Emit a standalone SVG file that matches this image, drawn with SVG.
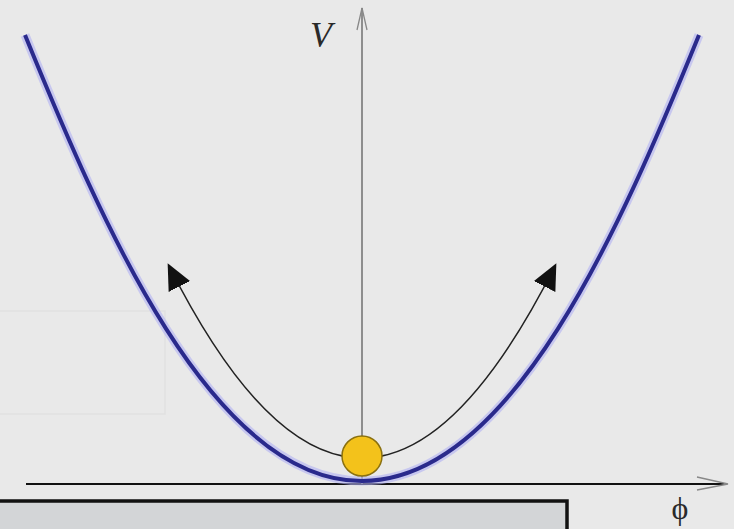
<svg xmlns="http://www.w3.org/2000/svg" width="734" height="529" viewBox="0 0 734 529">
  <style>
    .axis { stroke: #111; stroke-width: 2; fill: none; }
    .vaxis { stroke: #777; stroke-width: 1.6; fill: none; }
    .barb { stroke: #888; stroke-width: 1.3; fill: none; }
    .halo { stroke: #b0b0f4; stroke-width: 9; fill: none; opacity: 0.6; }
    .pot { stroke: #2a2a8c; stroke-width: 4; fill: none; }
    .arc { stroke: #222; stroke-width: 1.6; fill: none; }
    .lbl { font-family: "Liberation Serif", "DejaVu Serif", serif; fill: #2a2a2a; }
  </style>
  <defs>
    <marker id="ah" viewBox="0 0 26 24" refX="23" refY="12" markerWidth="26" markerHeight="24" markerUnits="userSpaceOnUse" orient="auto">
      <path d="M0,0 L26,12 L0,24 z" fill="#111"/>
    </marker>
  </defs>
  <rect x="0" y="0" width="734" height="529" fill="#e9e9e9"/>
  <rect x="-2" y="311" width="167" height="103" fill="none" stroke="#e1e1e1" stroke-width="1.5"/>

  <g id="box">
    <rect x="-3" y="501" width="570" height="40" fill="#d3d5d7" stroke="#111" stroke-width="3.5"/>
  </g>

  <g id="connectors">
    <!-- horizontal axis -->
    <line class="axis" x1="26" y1="484" x2="727" y2="484"/>
    <path class="barb" d="M697,477 L728,484 L697,490"/>
    <!-- vertical axis -->
    <line class="vaxis" x1="362" y1="484" x2="362" y2="8"/>
    <path class="barb" d="M357,30 L362,8 L367,30"/>
    <!-- arrows from ball -->
    <path class="arc" d="M343,456.1 Q256.5,439.2 169,266" marker-end="url(#ah)"/>
    <path class="arc" d="M381,456.1 Q467.5,439.2 555,266" marker-end="url(#ah)"/>
  </g>

  <g id="potential">
    <path class="halo" d="M25,35 C102,224 212,481 362,481 C512,481 622,224 699,35"/>
    <path class="pot" d="M25,35 C102,224 212,481 362,481 C512,481 622,224 699,35"/>
  </g>

  <g id="ball">
    <circle cx="362" cy="456" r="20" fill="#f3c21b" stroke="#8a7010" stroke-width="1.5"/>
  </g>

  <g id="labels">
    <text class="lbl" x="310" y="47" font-size="36" font-style="italic">V</text>
    <text class="lbl" x="680" y="519" font-size="32" text-anchor="middle">ϕ</text>
  </g>
</svg>
